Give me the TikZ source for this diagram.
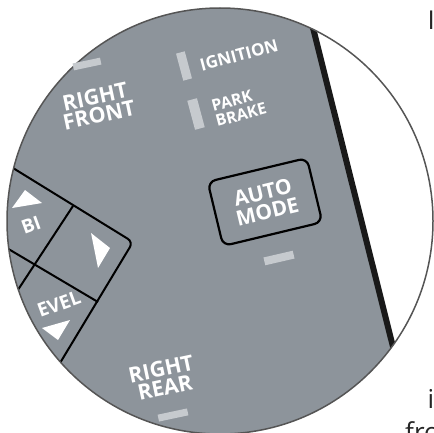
\documentclass[tikz,border=0pt]{standalone}
\usepackage{fontspec}
\setmainfont{Open Sans}
\usetikzlibrary{positioning}
\definecolor{panelgray}{RGB}{141,148,155}
\definecolor{ledgray}{RGB}{198,202,206}
\definecolor{rimgray}{RGB}{85,85,85}
\begin{document}
\begin{tikzpicture}[x=1pt,y=-1pt,
  lbl/.style={text=white,font=\bfseries,align=center,inner sep=0pt},
  led/.style={fill=ledgray,inner sep=0pt,minimum width=#1,minimum height=7pt},led/.default=28pt,
  keyline/.style={line width=2pt,black,line join=round},
  outtxt/.style={inner sep=0pt,text=black!85,font=\fontsize{26}{26}\selectfont}]
  \useasboundingbox (0,0) rectangle (433,433);
  % panel face, cut by the rim
  \begin{scope}
    \clip (220,221) circle (213pt);
    \fill[panelgray] (0,0) -- (306,0) -- (414.6,433) -- (0,433) -- cycle;
    \draw[line width=6pt,black!90] (306,0) -- (414.6,433);
    % level keys
    \draw[keyline,rounded corners=6pt] (0,160) -- (133,242) -- (57,368);
    \draw[keyline] (0,244) -- (98,302);
    \draw[keyline] (73,206) -- (10,302);
  \end{scope}
  \draw[rimgray,line width=1.5pt] (220,221) circle (213pt);

  % key arrows
  \fill[white] (12,208) -- (25,190) -- (42,203) -- cycle;
  \fill[white] (91,233) -- (110,248) -- (98,268) -- cycle;
  \fill[white] (42,328) -- (70,320) -- (58,340) -- cycle;
  \node[lbl,rotate=20,font=\bfseries\fontsize{19}{19}\selectfont] (bi) at (31,225) {BI};
  \node[lbl,rotate=20,font=\bfseries\fontsize{19}{19}\selectfont] (evel) at (59,304) {EVEL};

  % corner labels
  \node[lbl,rotate=12,font=\bfseries\fontsize{21.5}{19}\selectfont] (rfront) at (97,106) {RIGHT\\FRONT};
  \node[led,rotate=12] (rfled) at (87,64) {};
  \node[lbl,rotate=12,font=\bfseries\fontsize{21.5}{19}\selectfont] (rrear) at (163,378) {RIGHT\\REAR};
  \node[led=30pt,rotate=12] (rrled) at (173,415) {};

  % warning lamps
  \node[lbl,rotate=15,font=\bfseries\fontsize{17}{17}\selectfont] (ign) at (239,55) {IGNITION};
  \node[fill=ledgray,inner sep=0pt,minimum width=9pt,minimum height=28pt,rotate=15] (ignled) at (184,66) {};
  \node[lbl,rotate=15,align=left,font=\bfseries\fontsize{16}{16}\selectfont] (park) at (239,107) {PARK\\BRAKE};
  \node[fill=ledgray,inner sep=0pt,minimum width=10pt,minimum height=30pt,rotate=15] (parkled) at (196,114) {};

  % auto mode key
  \node[draw=black,line width=2.2pt,rounded corners=8pt,minimum width=102pt,minimum height=66pt,
        rotate=13.5,inner sep=0pt] (auto) at (265,202) {};
  \node[lbl,rotate=13.5,font=\bfseries\fontsize{21}{20}\selectfont] (autotxt) at (auto.center) {AUTO\\MODE};
  \node[led=30pt,minimum height=8pt,rotate=13] (autoled) at (279,258) {};

  % bits of the page around the view
  \node[outtxt,anchor=north west] (topI) at (427.5,11) {I};
  \node[outtxt,anchor=base west] (midi) at (427.5,408) {i};
  \node[outtxt,anchor=base west] (fro) at (405,441) {fro};
\end{tikzpicture}
\end{document}
